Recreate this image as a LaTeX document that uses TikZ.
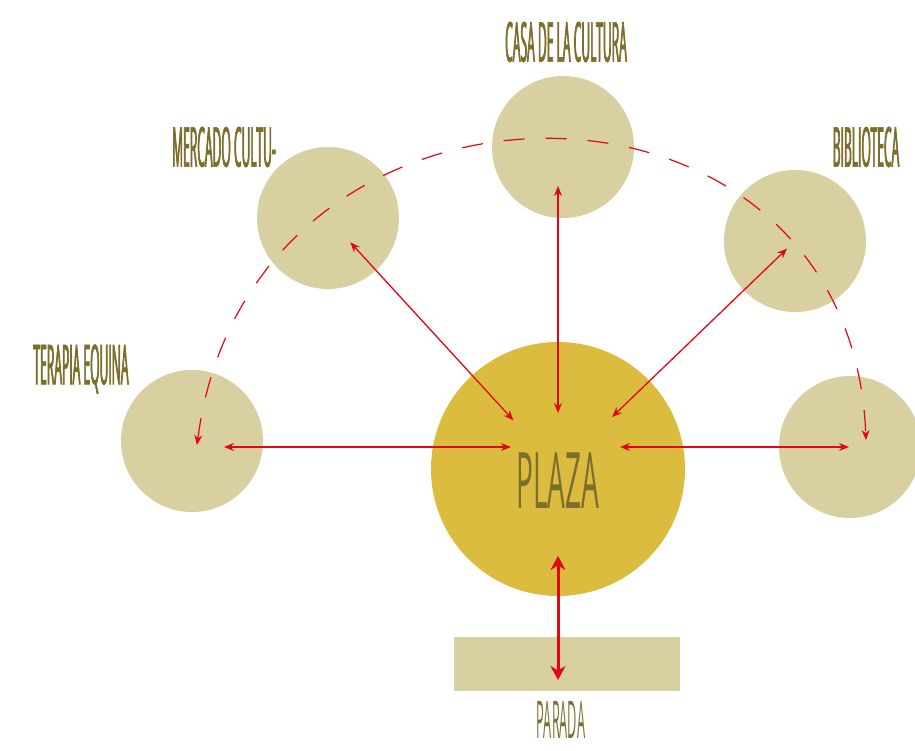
\documentclass[tikz,border=0pt]{standalone}
\usepackage{fontspec}
\newfontfamily\condfont[FakeStretch=0.22,FakeBold=1.2]{Open Sans}
\newfontfamily\thinfont[FakeStretch=0.245]{Open Sans}
\newfontfamily\plazafont[FakeStretch=0.36]{Open Sans}
\usetikzlibrary{arrows.meta,calc}
\definecolor{spotfill}{RGB}{216,208,160}
\definecolor{plazafill}{RGB}{219,188,63}
\definecolor{labeltext}{RGB}{125,110,44}
\definecolor{linkred}{RGB}{227,6,19}

\begin{document}
\begin{tikzpicture}[x=1pt,y=1pt,>=Stealth]
  \tikzstyle{spot}=[circle,fill=spotfill,minimum size=142pt,inner sep=0pt]
  \tikzstyle{lbl}=[text=labeltext,inner sep=0pt,font=\condfont\fontsize{55}{55}\selectfont]
  \tikzstyle{link}=[<->,draw=linkred,line width=1.3pt,>={Stealth[length=10pt,width=8pt]}]
  \useasboundingbox (0,0) rectangle (915,751);

  \node[spot] (casa) at (563,604) {};
  \node[spot] (mercado) at (328,533) {};
  \node[spot] (biblio) at (795,510) {};
  \node[spot] (terapia) at (192,310) {};
  \node[spot] (rightc) at (850,304) {};
  \node[circle,fill=plazafill,minimum size=254pt,inner sep=0pt] (plaza) at (558,282) {};
  \node[fill=spotfill,minimum width=226pt,minimum height=54pt,inner sep=0pt] (parada) at (567,87) {};

  \node[lbl] (casalbl) at (566,709) {CASA DE LA CULTURA};
  \node[lbl] (mercadolbl) at (224,604) {MERCADO CULTU-};
  \node[lbl] (bibliolbl) at (866,604) {BIBLIOTECA};
  \node[lbl] (terapialbl) at (81,382) {TERAPIA EQUINA};
  \node[lbl,font=\plazafont\fontsize{78}{78}\selectfont] (plazalbl) at (558,270) {PLAZA};
  \node[lbl,font=\thinfont\fontsize{52}{52}\selectfont] (paradalbl) at (561,31) {PARADA};

  \draw[link] ($(casa)+(-5,-39)$) -- ($(plaza)+(0,56)$);
  \draw[link] ($(mercado)!33pt!(plaza)$) -- ($(plaza)!66pt!(mercado)$);
  \draw[link] ($(biblio)!11pt!(plaza)$) -- ($(plaza)!75pt!(biblio)$);
  \draw[link] ($(terapia)+(32,-6)$) -- ($(plaza)+(-47,22)$);
  \draw[link] ($(rightc)+(-1,0)$) -- ($(plaza)+(62,22)$);
  \draw[link,line width=3pt,>={Stealth[length=14pt,width=15pt]}] ($(plaza)+(0,-87)$) -- ($(parada)+(-9,-16)$);

  % dashed tour round the spots
  \draw[link,dash pattern=on 21pt off 21pt,line width=1.2pt] ($(terapia)+(5,-4)$) .. controls (250,712) and (850,712) .. ($(rightc)+(16,7)$);
\end{tikzpicture}
\end{document}
